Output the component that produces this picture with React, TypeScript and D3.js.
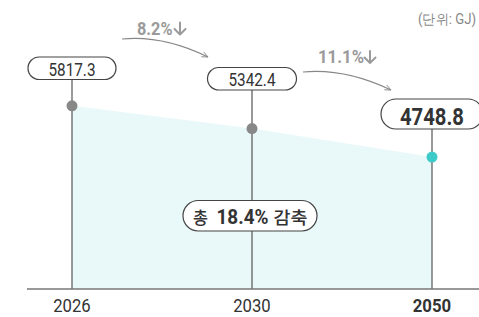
import React from "react";
import * as d3 from "d3";

const years = ["2026", "2030", "2050"];
const values = [5817.3, 5342.4, 4748.8];
const changes = ["8.2%", "11.1%"];
const totalParts = ["총", "18.4%", "감축"];
const unitLabel = "(단위: GJ)";

const W = 479;
const H = 317;
const NUM_FONT = "Roboto, 'Liberation Sans', sans-serif";
const KR_FONT = "'Noto Sans CJK KR', 'Noto Sans', sans-serif";

function DownArrow({ x, top, h, w, color }: { x: number; top: number; h: number; w: number; color: string }) {
  const p = d3.path();
  p.moveTo(x, top);
  p.lineTo(x, top + h);
  p.moveTo(x - w / 2, top + h - w / 2);
  p.lineTo(x, top + h);
  p.lineTo(x + w / 2, top + h - w / 2);
  return <path d={p.toString()} fill="none" stroke={color} strokeWidth={2} strokeLinecap="round" strokeLinejoin="round" />;
}

export default function App() {
  const x = d3.scalePoint<string>().domain(years).range([72, 432]);
  const y = d3.scaleLinear().domain([2000, 6000]).range([289, 97]);
  const baseY = y(2000);

  const area = d3
    .area<number>()
    .x((_, i) => x(years[i])!)
    .y0(baseY)
    .y1((d) => y(d));

  const labelBoxes = [
    { top: 57, h: 22.5, w: 88, fs: 19, bold: false, tw: 47, base: 75.5 },
    { top: 67.5, h: 22.5, w: 89, fs: 19, bold: false, tw: 47, base: 86 },
    { top: 99, h: 30, w: 102, fs: 23, bold: true, tw: 64, base: 125 },
  ];

  const arrows = [
    { from: [122, 39], to: [208, 57], tx0: 137, tw: 35.5, base: 34.5, ax: 180, atop: 22.5 },
    { from: [303, 72], to: [391, 90], tx0: 318, tw: 46, base: 63, ax: 370, atop: 51 },
  ];

  return (
    <svg width={W} height={H} style={{ position: "absolute", left: 0, top: 0 }}>
      <defs>
        <marker id="ah" viewBox="0 0 10 10" refX="9" refY="5" markerWidth="7" markerHeight="7" orient="auto">
          <path d="M1,1.5 L9,5 L1,8.5" fill="none" stroke="#888" strokeWidth="1.1" />
        </marker>
      </defs>
      <path d={area(values) || ""} fill="#e9f8f8" />
      {years.map((yr, i) => (
        <line
          key={yr}
          x1={x(yr)}
          x2={x(yr)}
          y1={labelBoxes[i].top + labelBoxes[i].h}
          y2={baseY}
          stroke="#555"
          strokeWidth={1.2}
        />
      ))}
      <line x1={27} x2={W} y1={baseY} y2={baseY} stroke="#777" strokeWidth={1.5} />
      {years.map((yr, i) => (
        <text
          key={"t" + yr}
          x={x(yr)}
          y={312}
          textAnchor="middle"
          fontFamily={NUM_FONT}
          fontSize={18.5}
          fontWeight={i === 2 ? 700 : 400}
          textLength={i === 2 ? 38.5 : 37.5}
          lengthAdjust="spacingAndGlyphs"
          fill="#333"
        >
          {yr}
        </text>
      ))}
      {values.map((v, i) => {
        const b = labelBoxes[i];
        const cx = x(years[i])!;
        return (
          <g key={"l" + i}>
            <rect
              x={cx - b.w / 2}
              y={b.top}
              width={b.w}
              height={b.h}
              rx={b.h / 2}
              fill="#fff"
              stroke="#444"
              strokeWidth={1.2}
            />
            <text
              x={cx}
              y={b.base}
              textAnchor="middle"
              fontFamily={NUM_FONT}
              fontSize={b.fs}
              fontWeight={b.bold ? 700 : 400}
              textLength={b.tw}
              lengthAdjust="spacingAndGlyphs"
              fill="#333"
            >
              {v.toFixed(1)}
            </text>
          </g>
        );
      })}
      {values.map((v, i) => (
        <circle key={"c" + i} cx={x(years[i])} cy={y(v)} r={5.5} fill={i === 2 ? "#3ccbc9" : "#888"} />
      ))}
      {arrows.map((a, i) => {
        const [x1, y1] = a.from;
        const [x2, y2] = a.to;
        const path = d3.path();
        path.moveTo(x1, y1);
        path.quadraticCurveTo((x1 + x2) / 2 - 2, y1 - 4, x2, y2);
        return (
          <g key={"a" + i}>
            <path d={path.toString()} fill="none" stroke="#888" strokeWidth={1.1} markerEnd="url(#ah)" />
            <text
              x={a.tx0}
              y={a.base}
              fontFamily={NUM_FONT}
              fontSize={18}
              fontWeight={700}
              textLength={a.tw}
              lengthAdjust="spacingAndGlyphs"
              fill="#9a9a9a"
            >
              {changes[i]}
            </text>
            <DownArrow x={a.ax} top={a.atop} h={12} w={11} color="#9a9a9a" />
          </g>
        );
      })}
      <rect x={183} y={200.5} width={134} height={30.5} rx={15.25} fill="#fff" stroke="#444" strokeWidth={1.2} />
      <text
        x={193}
        y={223.5}
        fontFamily={KR_FONT}
        fontSize={17.5}
        fontWeight={500}
        fill="#333"
        textLength={15}
        lengthAdjust="spacingAndGlyphs"
      >
        {totalParts[0]}
      </text>
      <text
        x={216.5}
        y={224}
        fontFamily={NUM_FONT}
        fontSize={20}
        fontWeight={700}
        fill="#333"
        textLength={52}
        lengthAdjust="spacingAndGlyphs"
      >
        {totalParts[1]}
      </text>
      <text
        x={273.5}
        y={223.5}
        fontFamily={KR_FONT}
        fontSize={17.5}
        fontWeight={500}
        fill="#333"
        textLength={34}
        lengthAdjust="spacingAndGlyphs"
      >
        {totalParts[2]}
      </text>
      <text x={418} y={24} fontFamily={NUM_FONT} fontSize={14} fill="#888" textLength={58} lengthAdjust="spacingAndGlyphs">
        {unitLabel}
      </text>
    </svg>
  );
}
